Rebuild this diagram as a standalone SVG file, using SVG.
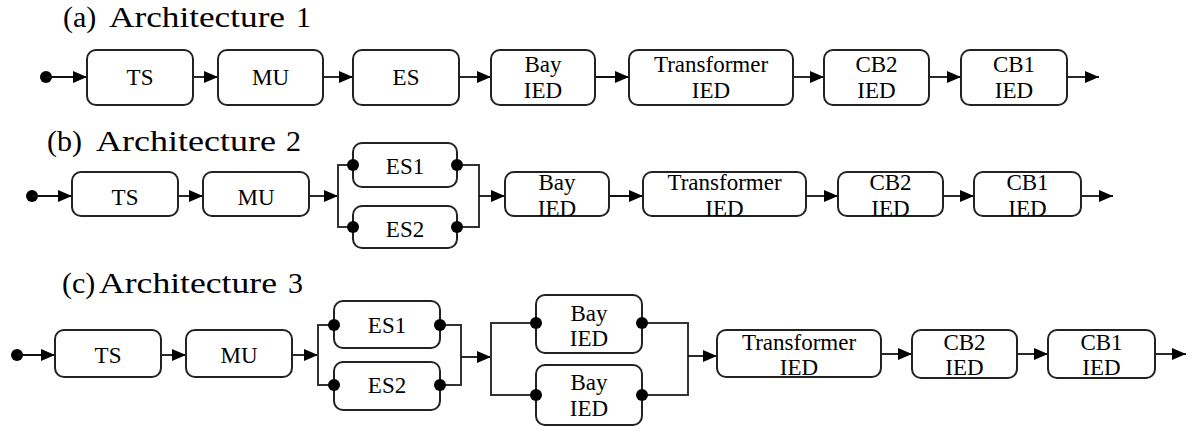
<svg xmlns="http://www.w3.org/2000/svg" width="1193" height="435" viewBox="0 0 1193 435">
<defs>
<marker id="arr" viewBox="0 0 14 12" refX="14" refY="6" markerWidth="14" markerHeight="12" markerUnits="userSpaceOnUse" orient="auto">
<path d="M0,0 L14,6 L0,12 z" fill="#000"/>
</marker>
</defs>
<style>
.box{fill:#fff;stroke:#222;stroke-width:2}
.t{font-family:'Liberation Serif','DejaVu Serif','Noto Serif',serif;font-size:23px;fill:#000;text-anchor:middle}
.title{font-family:'Liberation Serif','DejaVu Serif','Noto Serif',serif;font-size:30px;fill:#000}
.a{fill:none;stroke:#111;stroke-width:1.8;marker-end:url(#arr)}
.p{fill:none;stroke:#333;stroke-width:2}
.d{fill:#000}
</style>
<rect width="1193" height="435" fill="#fff"/>

<!-- Titles -->
<g id="title-a"><text class="title" y="27"><tspan x="63">(a)</tspan> <tspan x="109" textLength="176" lengthAdjust="spacingAndGlyphs">Architecture</tspan> <tspan x="296">1</tspan></text></g>
<g id="title-b"><text class="title" y="151"><tspan x="47">(b)</tspan> <tspan x="96" textLength="180" lengthAdjust="spacingAndGlyphs">Architecture</tspan> <tspan x="286">2</tspan></text></g>
<g id="title-c"><text class="title" y="293"><tspan x="62">(c)</tspan><tspan x="99" textLength="178" lengthAdjust="spacingAndGlyphs">Architecture</tspan> <tspan x="288">3</tspan></text></g>

<!-- Connectors -->
<g id="connectors">
<!-- row a -->
<circle class="d" cx="46" cy="77" r="6"/>
<path class="a" d="M46,77 H87"/>
<path class="a" d="M193,77 H218"/>
<path class="a" d="M323,77 H353"/>
<path class="a" d="M459,77 H491"/>
<path class="a" d="M595,77 H629"/>
<path class="a" d="M793,77 H824"/>
<path class="a" d="M929,77 H961"/>
<path class="a" d="M1067,77 H1099"/>
<!-- row b -->
<circle class="d" cx="32" cy="196" r="6"/>
<path class="a" d="M32,196 H72"/>
<path class="a" d="M178,196 H203"/>
<path class="a" d="M309,196 H338"/>
<path class="p" d="M353,165 H338 V227 H353"/>
<path class="p" d="M457,165 H479 V227 H457"/>
<path class="a" d="M479,196 H505"/>
<path class="a" d="M609,196 H643"/>
<path class="a" d="M806,196 H838"/>
<path class="a" d="M943,196 H974"/>
<path class="a" d="M1081,196 H1113"/>
<!-- row c -->
<circle class="d" cx="17" cy="355" r="6"/>
<path class="a" d="M17,355 H55"/>
<path class="a" d="M161,355 H186"/>
<path class="a" d="M292,355 H318"/>
<path class="p" d="M334,325 H318 V385 H334"/>
<path class="p" d="M440,325 H461 V385 H440"/>
<path class="a" d="M461,357 H491"/>
<path class="p" d="M536,323 H491 V395 H536"/>
<path class="p" d="M642,323 H688 V395 H642"/>
<path class="a" d="M688,356 H717"/>
<path class="a" d="M881,354 H912"/>
<path class="a" d="M1017,354 H1048"/>
<path class="a" d="M1155,354 H1186"/>
</g>

<!-- Row a nodes -->
<g id="a-ts"><rect class="box" x="87" y="50" width="106" height="55" rx="9"/><text class="t" x="140" y="85">TS</text></g>
<g id="a-mu"><rect class="box" x="218" y="50" width="105" height="55" rx="9"/><text class="t" x="270.5" y="85">MU</text></g>
<g id="a-es"><rect class="box" x="353" y="50" width="106" height="55" rx="9"/><text class="t" x="406" y="85">ES</text></g>
<g id="a-bay"><rect class="box" x="491" y="50" width="104" height="55" rx="9"/><text class="t" x="543" y="72">Bay</text><text class="t" x="543" y="98">IED</text></g>
<g id="a-tr"><rect class="box" x="629" y="50" width="164" height="55" rx="9"/><text class="t" x="711" y="72">Transformer</text><text class="t" x="711" y="98">IED</text></g>
<g id="a-cb2"><rect class="box" x="824" y="50" width="105" height="55" rx="9"/><text class="t" x="876.5" y="72">CB2</text><text class="t" x="876.5" y="98">IED</text></g>
<g id="a-cb1"><rect class="box" x="961" y="50" width="106" height="55" rx="9"/><text class="t" x="1014" y="72">CB1</text><text class="t" x="1014" y="98">IED</text></g>

<!-- Row b nodes -->
<g id="b-ts"><rect class="box" x="72" y="172" width="106" height="44" rx="9"/><text class="t" x="125" y="205">TS</text></g>
<g id="b-mu"><rect class="box" x="203" y="172" width="106" height="44" rx="9"/><text class="t" x="256" y="205">MU</text></g>
<g id="b-es1"><rect class="box" x="353" y="143" width="104" height="44" rx="9"/><text class="t" x="405" y="174">ES1</text><circle class="d" cx="353" cy="165" r="6"/><circle class="d" cx="457" cy="165" r="6"/></g>
<g id="b-es2"><rect class="box" x="353" y="206" width="104" height="42" rx="9"/><text class="t" x="405" y="237">ES2</text><circle class="d" cx="353" cy="227" r="6"/><circle class="d" cx="457" cy="227" r="6"/></g>
<g id="b-bay"><rect class="box" x="505" y="172" width="104" height="44" rx="9"/><text class="t" x="557" y="190">Bay</text><text class="t" x="557" y="216">IED</text></g>
<g id="b-tr"><rect class="box" x="643" y="172" width="163" height="44" rx="9"/><text class="t" x="724.5" y="190">Transformer</text><text class="t" x="724.5" y="216">IED</text></g>
<g id="b-cb2"><rect class="box" x="838" y="172" width="105" height="44" rx="9"/><text class="t" x="890.5" y="190">CB2</text><text class="t" x="890.5" y="216">IED</text></g>
<g id="b-cb1"><rect class="box" x="974" y="172" width="107" height="44" rx="9"/><text class="t" x="1027.5" y="190">CB1</text><text class="t" x="1027.5" y="216">IED</text></g>

<!-- Row c nodes -->
<g id="c-ts"><rect class="box" x="55" y="330" width="106" height="47" rx="9"/><text class="t" x="108" y="363">TS</text></g>
<g id="c-mu"><rect class="box" x="186" y="330" width="106" height="47" rx="9"/><text class="t" x="239" y="363">MU</text></g>
<g id="c-es1"><rect class="box" x="334" y="301" width="106" height="47" rx="9"/><text class="t" x="387" y="333">ES1</text><circle class="d" cx="334" cy="325" r="6"/><circle class="d" cx="440" cy="325" r="6"/></g>
<g id="c-es2"><rect class="box" x="334" y="362" width="106" height="48" rx="9"/><text class="t" x="387" y="393">ES2</text><circle class="d" cx="334" cy="385" r="6"/><circle class="d" cx="440" cy="385" r="6"/></g>
<g id="c-bay1"><rect class="box" x="536" y="295" width="106" height="58" rx="9"/><text class="t" x="589" y="321">Bay</text><text class="t" x="589" y="346">IED</text><circle class="d" cx="536" cy="323" r="6"/><circle class="d" cx="642" cy="323" r="6"/></g>
<g id="c-bay2"><rect class="box" x="536" y="365" width="106" height="60" rx="9"/><text class="t" x="589" y="390">Bay</text><text class="t" x="589" y="416">IED</text><circle class="d" cx="536" cy="395" r="6"/><circle class="d" cx="642" cy="395" r="6"/></g>
<g id="c-tr"><rect class="box" x="717" y="330" width="164" height="47" rx="9"/><text class="t" x="799" y="350">Transformer</text><text class="t" x="799" y="375">IED</text></g>
<g id="c-cb2"><rect class="box" x="912" y="330" width="105" height="48" rx="9"/><text class="t" x="964.5" y="350">CB2</text><text class="t" x="964.5" y="375">IED</text></g>
<g id="c-cb1"><rect class="box" x="1048" y="330" width="107" height="48" rx="9"/><text class="t" x="1101.5" y="350">CB1</text><text class="t" x="1101.5" y="375">IED</text></g>
</svg>
